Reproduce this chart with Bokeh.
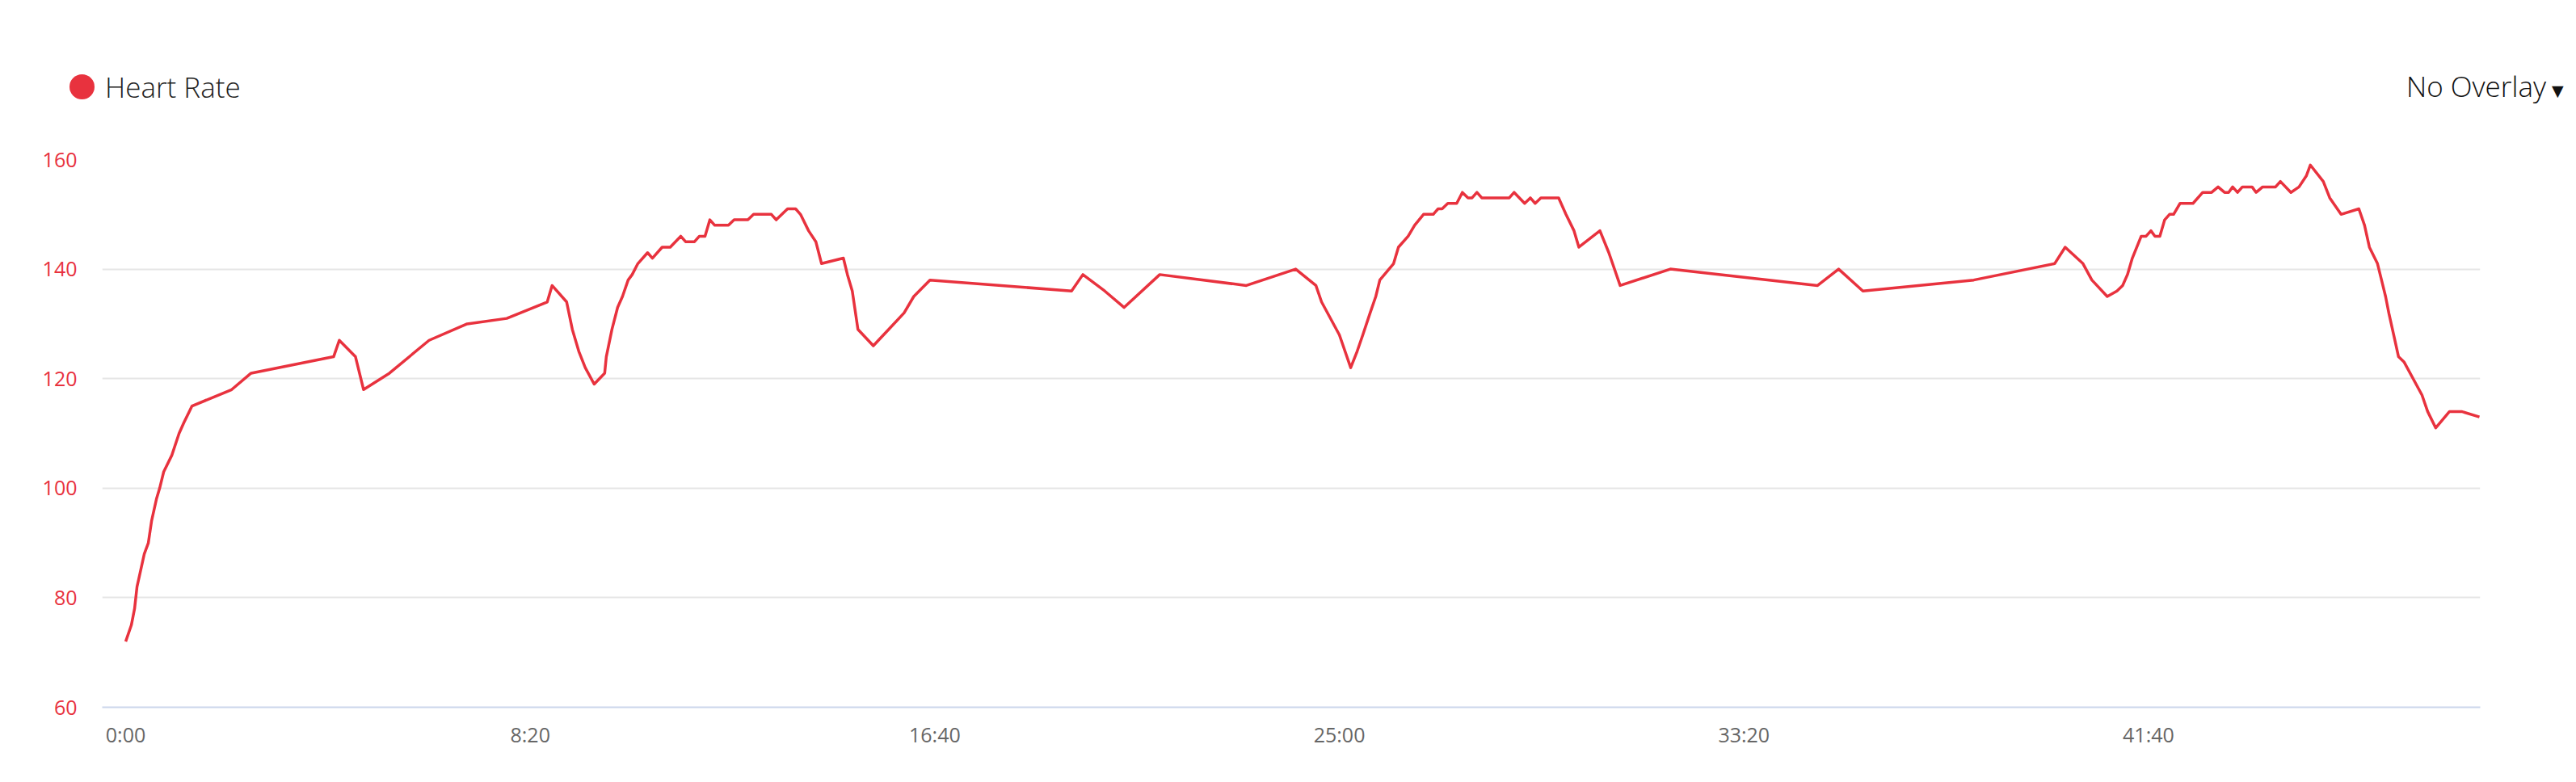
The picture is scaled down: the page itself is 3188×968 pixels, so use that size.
from bokeh.plotting import figure
from bokeh.models import Range1d, FixedTicker, Div
from bokeh.layouts import column
from bokeh.embed import file_html
from bokeh.resources import INLINE

# ---- data (elapsed seconds, heart rate in bpm) ----
time_s = [0, 7, 11, 14, 17, 23, 28, 32, 38, 42, 47, 57, 66, 72, 82, 131, 155, 257, 264, 284,
          294, 326, 375, 422, 471, 521, 527, 545, 552, 560, 568, 579, 592, 594, 601, 608, 614,
          621, 626, 633, 645, 651, 663, 673, 686, 692, 703, 709, 716, 722, 728, 745, 752, 769,
          776, 798, 804, 818, 828, 834, 844, 853, 860, 887, 892, 898, 905, 924, 943, 962, 974,
          994, 1169, 1183, 1210, 1234, 1278, 1385, 1446, 1471, 1478, 1500, 1514, 1522, 1529,
          1538, 1545, 1550, 1567, 1573, 1585, 1593, 1604, 1616, 1622, 1627, 1634, 1645, 1652,
          1659, 1664, 1670, 1676, 1710, 1716, 1729, 1736, 1742, 1749, 1771, 1780, 1790, 1796,
          1822, 1833, 1847, 1909, 2091, 2117, 2147, 2284, 2384, 2397, 2419, 2430, 2449, 2461,
          2468, 2474, 2480, 2491, 2497, 2503, 2508, 2514, 2520, 2526, 2531, 2539, 2555, 2567,
          2578, 2586, 2594, 2599, 2604, 2610, 2616, 2628, 2633, 2641, 2657, 2663, 2676, 2686,
          2695, 2700, 2716, 2724, 2738, 2760, 2767, 2773, 2783, 2788, 2793, 2797, 2803, 2809,
          2816, 2838, 2845, 2855, 2872, 2887, 2909]
heart_rate = [72, 75, 78, 82, 84, 88, 90, 94, 98, 100, 103, 106, 110, 112, 115, 118, 121, 124,
              127, 124, 118, 121, 127, 130, 131, 134, 137, 134, 129, 125, 122, 119, 121, 124,
              129, 133, 135, 138, 139, 141, 143, 142, 144, 144, 146, 145, 145, 146, 146, 149,
              148, 148, 149, 149, 150, 150, 149, 151, 151, 150, 147, 145, 141, 142, 139, 136,
              129, 126, 129, 132, 135, 138, 136, 139, 136, 133, 139, 137, 140, 137, 134, 128,
              122, 125, 128, 132, 135, 138, 141, 144, 146, 148, 150, 150, 151, 151, 152, 152,
              154, 153, 153, 154, 153, 153, 154, 152, 153, 152, 153, 153, 150, 147, 144, 147,
              143, 137, 140, 137, 140, 136, 138, 141, 144, 141, 138, 135, 136, 137, 139, 142,
              146, 146, 147, 146, 146, 149, 150, 150, 152, 152, 154, 154, 155, 154, 154, 155,
              154, 155, 155, 154, 155, 155, 156, 154, 155, 157, 159, 156, 153, 150, 151, 148,
              144, 141, 138, 135, 132, 128, 124, 123, 117, 114, 111, 114, 114, 113]

x_ticks = [0, 500, 1000, 1500, 2000, 2500]
x_tick_labels = ["0:00", "8:20", "16:40", "25:00", "33:20", "41:40"]
y_ticks = [60, 80, 100, 120, 140, 160]

series_name = "Heart Rate"
overlay_text = "No Overlay"
overlay_caret = "\u25bc"

RED = "#e8323e"
W = 3188
HEADER_H = 150

# ---- header: legend entry on the left, overlay selector on the right ----
header_html = (
    f'<div style="position:relative;width:{W}px;height:{HEADER_H}px;'
    f'font-family:\'Open Sans\',sans-serif;">'
    f'<span style="position:absolute;left:86px;top:92px;width:31px;height:31px;'
    f'border-radius:50%;background:{RED};"></span>'
    f'<span style="position:absolute;left:130px;top:90px;font-size:35px;line-height:1;'
    f'font-weight:300;color:#222222;white-space:nowrap;">{series_name}</span>'
    f'<span style="position:absolute;right:37px;top:89px;font-size:35px;line-height:1;'
    f'font-weight:300;color:#111111;white-space:nowrap;">{overlay_text}</span>'
    f'<span style="position:absolute;left:3158px;top:103px;font-size:19px;line-height:1;'
    f'font-family:\'DejaVu Sans\';color:#111111;white-space:nowrap;">{overlay_caret}</span>'
    f'</div>'
)
hdr = Div(text=header_html, width=W, height=HEADER_H, margin=(0, 0, 0, 0))

# ---- main chart ----
p = figure(width=W, height=968 - HEADER_H, output_backend="svg", toolbar_location=None,
           x_range=Range1d(-29, 2910), y_range=Range1d(60, 160),
           min_border_left=126, min_border_right=119,
           min_border_top=197 - HEADER_H, min_border_bottom=93)
p.outline_line_color = None
p.background_fill_color = "white"
p.border_fill_color = "white"

p.line(time_s, heart_rate, line_color=RED, line_width=3.5, line_join="round")

p.xaxis.ticker = FixedTicker(ticks=x_ticks)
p.xaxis.major_label_overrides = {t: l for t, l in zip(x_ticks, x_tick_labels)}
p.xaxis.axis_line_color = "#ccd6eb"
p.xaxis.axis_line_width = 2
p.xaxis.major_tick_line_color = None
p.xaxis.minor_tick_line_color = None
p.xaxis.major_tick_in = 0
p.xaxis.major_tick_out = 0
p.xaxis.major_label_standoff = 16
p.xaxis.major_label_text_font = "Open Sans"
p.xaxis.major_label_text_font_size = "25px"
p.xaxis.major_label_text_color = "#666666"

p.yaxis.ticker = FixedTicker(ticks=y_ticks)
p.yaxis.axis_line_color = None
p.yaxis.major_tick_line_color = None
p.yaxis.minor_tick_line_color = None
p.yaxis.major_tick_in = 0
p.yaxis.major_tick_out = 0
p.yaxis.major_label_standoff = 31
p.yaxis.major_label_text_font = "Open Sans"
p.yaxis.major_label_text_font_size = "25px"
p.yaxis.major_label_text_color = RED

p.xgrid.grid_line_color = None
p.ygrid.grid_line_color = "#e6e6e6"
p.ygrid.grid_line_width = 2

layout = column(hdr, p, spacing=0)
open("out.html", "w").write(file_html(layout, INLINE))
